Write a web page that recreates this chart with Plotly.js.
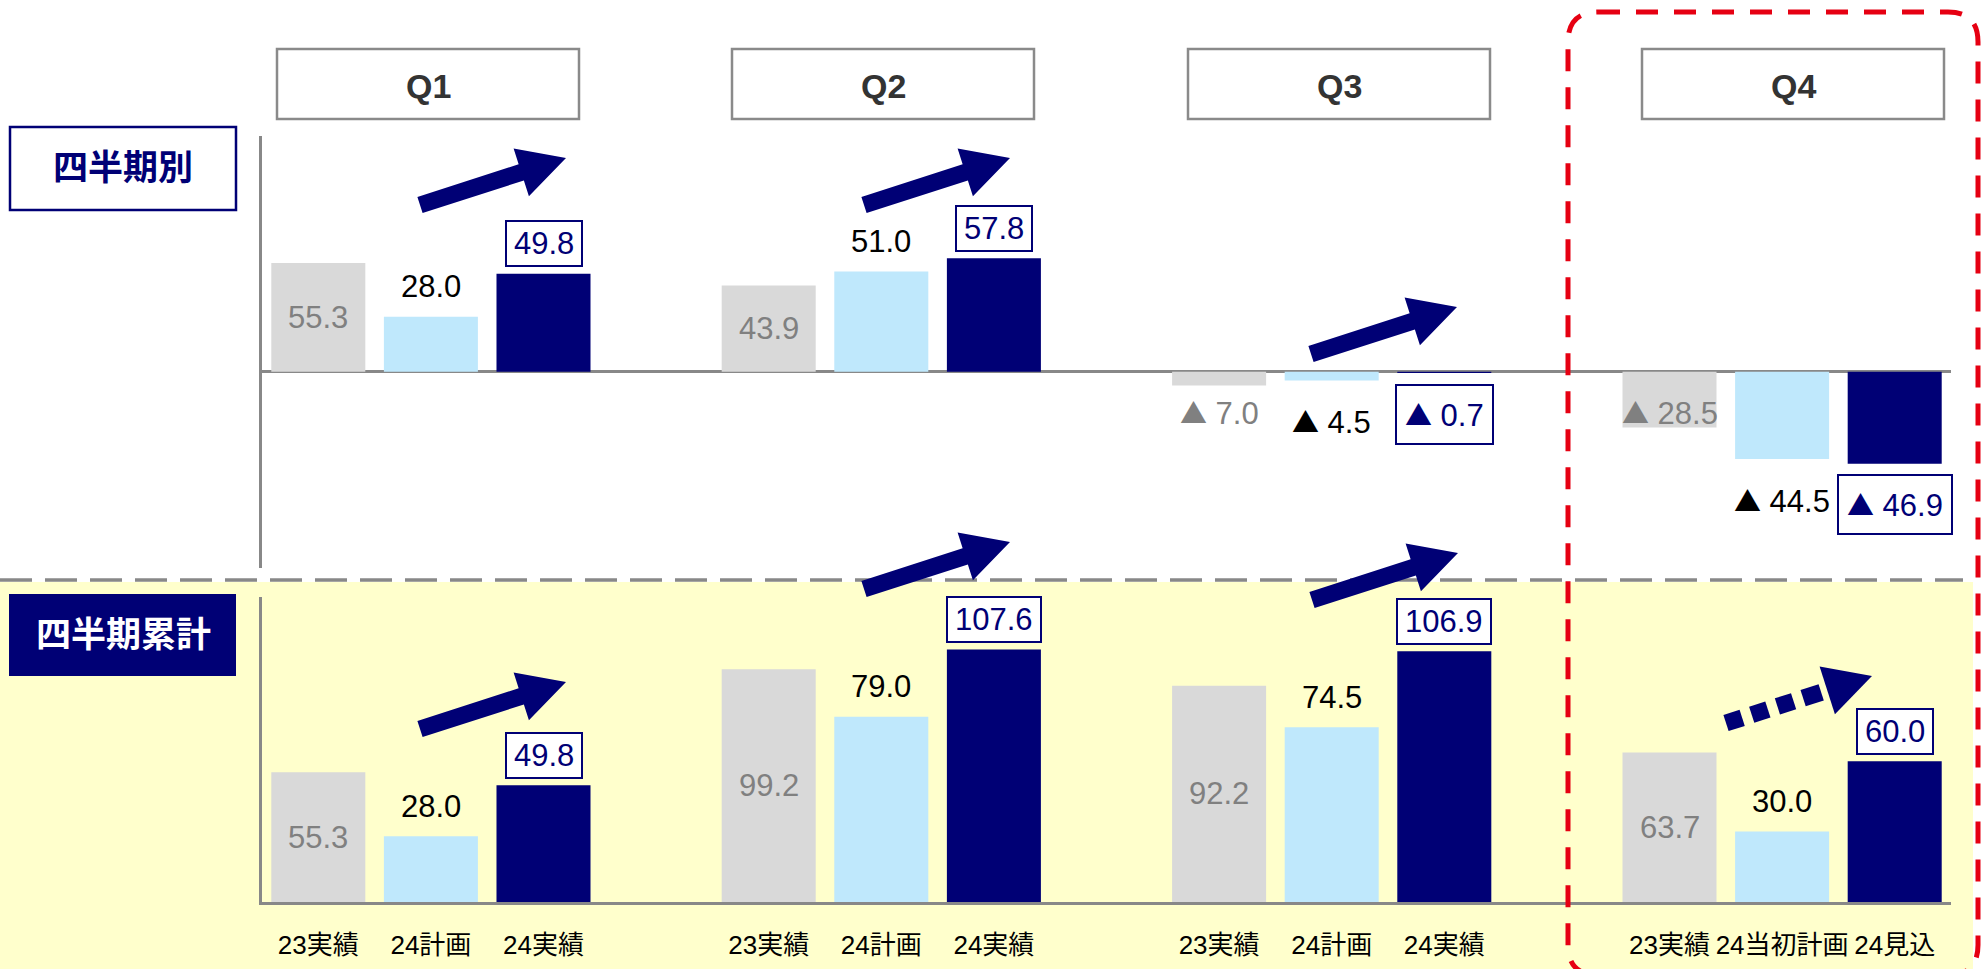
<!DOCTYPE html>
<html>
<head>
<meta charset="utf-8">
<script src="https://cdn.plot.ly/plotly-3.0.1.min.js"></script>
<style>html,body{margin:0;padding:0;background:#fff;}#chart{width:1983px;height:969px;}</style>
</head>
<body>
<div id="chart"></div>
<script>
// ---- data ----
const quarters = ['Q1', 'Q2', 'Q3', 'Q4'];
const seriesNames = ['23実績', '24計画', '24実績'];
const tickLabels = ['23実績', '24計画', '24実績', '23実績', '24計画', '24実績', '23実績', '24計画', '24実績', '23実績', '24当初計画', '24見込'];
// 四半期別
const qActual23 = [55.3, 43.9, -7.0, -28.5];
const qPlan24 = [28.0, 51.0, -4.5, -44.5];
const qActual24 = [49.8, 57.8, -0.7, -46.9];
// 四半期累計
const cActual23 = [55.3, 99.2, 92.2, 63.7];
const cPlan24 = [28.0, 79.0, 74.5, 30.0];
const cActual24 = [49.8, 107.6, 106.9, 60.0];

// ---- styles ----
const GRAY = '#D9D9D9', LBLUE = '#BFE8FC', NAVY = '#000075';
const AXIS = '#888888';
const NUMFONT = 'Liberation Sans, Arial, sans-serif';
const JFONT = 'Liberation Sans, Noto Sans CJK JP, sans-serif';
const W = 1983, H = 969;
const PL = 262, PR = 1951, PT = 136, PB = 902;
const X = px => (px - PL) / (PR - PL);
const Y = py => (PB - py) / (PB - PT);

const slot = (g, s) => 4 * g + s;
const slotsFor = s => quarters.map((q, g) => slot(g, s));
const tickVals = [];
quarters.forEach((q, g) => { for (let s = 0; s < 3; s++) tickVals.push(slot(g, s)); });

const colors = [GRAY, LBLUE, NAVY];
const upper = [qActual23, qPlan24, qActual24];
const lower = [cActual23, cPlan24, cActual24];
const BW = 0.835;

const traces = [];
upper.forEach((vals, s) => traces.push({
  type: 'bar', x: slotsFor(s), y: vals, yaxis: 'y2', xaxis: 'x', name: seriesNames[s],
  marker: {color: colors[s], line: {width: 0}}, width: BW, hoverinfo: 'skip'
}));
lower.forEach((vals, s) => traces.push({
  type: 'bar', x: slotsFor(s), y: vals, yaxis: 'y', xaxis: 'x', name: seriesNames[s],
  marker: {color: colors[s], line: {width: 0}}, width: BW, hoverinfo: 'skip'
}));

const TRI = '<span style="font-family:\'Noto Sans CJK JP\';font-size:27px">▲</span> ';
const fmt = v => (v < 0 ? TRI + Math.abs(v).toFixed(1) : v.toFixed(1));
const annotations = [];
const shapes = [];

function addLabels(sets, yref) {
  sets.forEach((vals, s) => {
    vals.forEach((v, g) => {
      const x = slot(g, s);
      if (s === 0) {
        annotations.push({
          xref: 'x', yref: yref, x: x, y: v > 0 ? v / 2 : -21, text: fmt(v), showarrow: false,
          font: {family: NUMFONT, size: 31, color: '#808080'}, xanchor: 'center', yanchor: 'middle'
        });
      } else if (s === 1) {
        annotations.push({
          xref: 'x', yref: yref, x: x, y: v, yshift: v > 0 ? 30 : -41, text: fmt(v), showarrow: false,
          font: {family: NUMFONT, size: 31, color: '#000000'}, xanchor: 'center', yanchor: 'middle'
        });
      } else {
        annotations.push({
          xref: 'x', yref: yref, x: x, y: v, yshift: v > 0 ? 30 : -41, text: fmt(v), showarrow: false,
          font: {family: NUMFONT, size: 31, color: NAVY}, xanchor: 'center', yanchor: 'middle',
          bgcolor: '#FFFFFF', bordercolor: NAVY, borderwidth: 2, borderpad: v > 0 ? 7 : 8,
          height: v > 0 ? 29 : 41
        });
      }
    });
  });
}
addLabels(upper, 'y2');
addLabels(lower, 'y');

// background for the cumulative section
shapes.push({type: 'rect', xref: 'paper', yref: 'paper', layer: 'below',
  x0: X(0), x1: X(1973), y0: Y(582), y1: Y(980), fillcolor: '#FFFFCC', line: {width: 0}});
// separator
shapes.push({type: 'line', xref: 'paper', yref: 'paper', layer: 'above',
  x0: X(0), x1: X(1963), y0: Y(580), y1: Y(580), line: {color: AXIS, width: 3.5, dash: '32px,13px'}});

// quarter header boxes
const qBoxCenters = [428, 883, 1339, 1793];
quarters.forEach((q, g) => {
  const cx = qBoxCenters[g];
  shapes.push({type: 'rect', xref: 'paper', yref: 'paper', x0: X(cx - 151), x1: X(cx + 151), y0: Y(119), y1: Y(49),
    fillcolor: '#FFFFFF', line: {color: '#8a8a8a', width: 2.5}});
  annotations.push({xref: 'paper', yref: 'paper', x: X(cx), y: Y(86), text: '<b>' + q + '</b>', showarrow: false,
    font: {family: NUMFONT, size: 34, color: '#333333'}, xanchor: 'center', yanchor: 'middle'});
});

// section label boxes
shapes.push({type: 'rect', xref: 'paper', yref: 'paper', x0: X(10), x1: X(236), y0: Y(210), y1: Y(127),
  fillcolor: '#FFFFFF', line: {color: NAVY, width: 2.5}});
annotations.push({xref: 'paper', yref: 'paper', x: X(123), y: Y(167), text: '<b>四半期別</b>', showarrow: false,
  font: {family: JFONT, size: 35, color: NAVY}, xanchor: 'center', yanchor: 'middle'});
shapes.push({type: 'rect', xref: 'paper', yref: 'paper', x0: X(9), x1: X(236), y0: Y(676), y1: Y(594),
  fillcolor: NAVY, line: {width: 0}});
annotations.push({xref: 'paper', yref: 'paper', x: X(123), y: Y(634), text: '<b>四半期累計</b>', showarrow: false,
  font: {family: JFONT, size: 35, color: '#FFFFFF'}, xanchor: 'center', yanchor: 'middle'});

// block arrows (pixel geometry converted to paper)
const AV = [146, -47];
function arrowPath(tipX, tipY, dashed) {
  const len = Math.hypot(AV[0], AV[1]);
  const ux = AV[0] / len, uy = AV[1] / len;
  const nx = -uy, ny = ux;
  const tx = tipX - AV[0], ty = tipY - AV[1];
  const sw = 8.5, hw = 25, hl = 47;
  const bx = tipX - ux * hl, by = tipY - uy * hl;
  const P = (x, y) => X(x) + ',' + Y(y);
  const paths = [];
  const head = 'M' + P(bx + nx * hw, by + ny * hw) + ' L' + P(tipX, tipY) + ' L' + P(bx - nx * hw, by - ny * hw) + ' Z';
  if (!dashed) {
    paths.push('M' + P(tx + nx * sw, ty + ny * sw) + ' L' + P(bx + nx * sw, by + ny * sw) + ' L' + P(bx + nx * hw, by + ny * hw) +
      ' L' + P(tipX, tipY) + ' L' + P(bx - nx * hw, by - ny * hw) + ' L' + P(bx - nx * sw, by - ny * sw) + ' L' + P(tx - nx * sw, ty - ny * sw) + ' Z');
  } else {
    paths.push(head);
    const segs = [[0, 17], [27, 44], [54, 71], [81, 100]];
    segs.forEach(([a, b]) => {
      const ax = tx + ux * a, ay = ty + uy * a, cx = tx + ux * b, cy = ty + uy * b;
      paths.push('M' + P(ax + nx * sw, ay + ny * sw) + ' L' + P(cx + nx * sw, cy + ny * sw) + ' L' + P(cx - nx * sw, cy - ny * sw) + ' L' + P(ax - nx * sw, ay - ny * sw) + ' Z');
    });
  }
  return paths;
}
const arrowTips = [[566, 158, false], [1010, 158, false], [1457, 307, false], [566, 682, false], [1010, 542, false], [1458, 553, false], [1872, 676, true]];
arrowTips.forEach(([x, y, d]) => arrowPath(x, y, d).forEach(p => shapes.push({
  type: 'path', xref: 'paper', yref: 'paper', path: p, fillcolor: NAVY, line: {width: 0}, layer: 'above'
})));

// red dashed rounded frame around Q4
(function () {
  const x0 = 1568, x1 = 1978, y0 = 12, y1 = 975, r = 30;
  const P = (x, y) => X(x) + ',' + Y(y);
  const path = 'M' + P(x0 + r, y0) + ' L' + P(x1 - r, y0) + ' Q' + P(x1, y0) + ' ' + P(x1, y0 + r) +
    ' L' + P(x1, y1 - r) + ' Q' + P(x1, y1) + ' ' + P(x1 - r, y1) + ' L' + P(x0 + r, y1) +
    ' Q' + P(x0, y1) + ' ' + P(x0, y1 - r) + ' L' + P(x0, y0 + r) + ' Q' + P(x0, y0) + ' ' + P(x0 + r, y0);
  shapes.push({type: 'path', xref: 'paper', yref: 'paper', path: path, layer: 'above',
    line: {color: '#E60012', width: 5, dash: '22px,16px'}});
})();

const layout = {
  width: W, height: H,
  margin: {l: PL, r: W - PR, t: PT, b: H - PB, pad: 0},
  paper_bgcolor: '#FFFFFF', plot_bgcolor: 'rgba(0,0,0,0)',
  showlegend: false, barmode: 'overlay',
  xaxis: {
    anchor: 'y', range: [-0.5, 14.5], showgrid: false, zeroline: false,
    showline: true, linecolor: AXIS, linewidth: 3,
    tickvals: tickVals, ticktext: tickLabels, ticks: 'outside', ticklen: 18, tickcolor: 'rgba(0,0,0,0)',
    tickfont: {family: JFONT, size: 26, color: '#000000'}, fixedrange: true
  },
  yaxis: {
    domain: [0, Y(597)], range: [0, 130], showgrid: false, zeroline: false,
    showline: true, linecolor: AXIS, linewidth: 3, showticklabels: false, ticks: '', fixedrange: true
  },
  yaxis2: {
    domain: [Y(568), 1], range: [-100, 120], anchor: 'x', showgrid: false,
    zeroline: true, zerolinecolor: AXIS, zerolinewidth: 3.5,
    showline: true, linecolor: AXIS, linewidth: 3, showticklabels: false, ticks: '', fixedrange: true
  },
  annotations: annotations,
  shapes: shapes
};

Plotly.newPlot('chart', traces, layout, {displayModeBar: false, staticPlot: true});
</script>
</body>
</html>
